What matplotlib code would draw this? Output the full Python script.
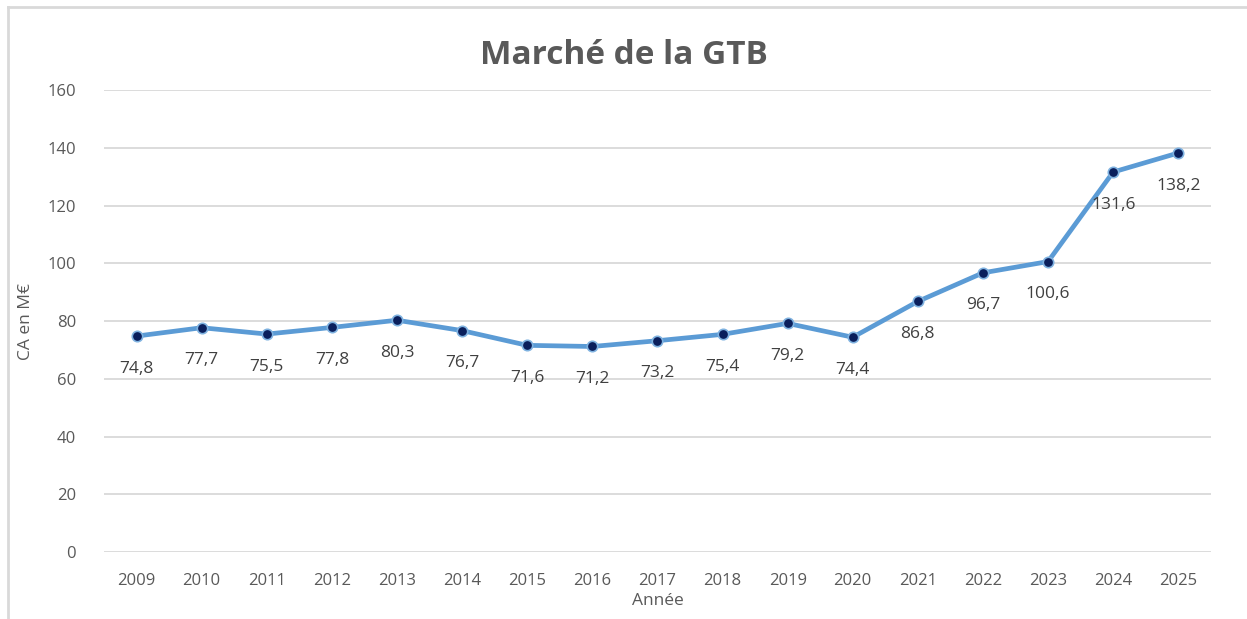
import matplotlib.pyplot as plt
from matplotlib.lines import Line2D

# data
annees = ["2009", "2010", "2011", "2012", "2013", "2014", "2015", "2016", "2017",
          "2018", "2019", "2020", "2021", "2022", "2023", "2024", "2025"]
ca = [74.8, 77.7, 75.5, 77.8, 80.3, 76.7, 71.6, 71.2, 73.2,
      75.4, 79.2, 74.4, 86.8, 96.7, 100.6, 131.6, 138.2]

plt.rcParams['font.family'] = ['Open Sans', 'DejaVu Sans']
gris = '#595959'

fig = plt.figure(figsize=(12.47, 6.19), dpi=100)
ax = fig.add_axes([0.0834, 0.108, 0.8876, 0.7466])

x = list(range(len(annees)))
ax.plot(x, ca, color='#5B9BD5', lw=3.4, marker='o', markersize=7.5,
        markerfacecolor='#0A1F5C', markeredgecolor='#7FB2E0', markeredgewidth=1.2,
        solid_capstyle='round', zorder=3)

for xi, v in zip(x, ca):
    ax.annotate(f"{v:.1f}".replace('.', ','), (xi, v), xytext=(0, -23.5),
                textcoords='offset points', ha='center', va='center',
                fontsize=12.5, color='#404040')

ax.set_xlim(-0.5, len(annees) - 0.5)
ax.set_ylim(0, 160)
ax.set_yticks(range(0, 161, 20))
ax.set_xticks(x)
ax.set_xticklabels(annees)
ax.grid(axis='y', color='#d9d9d9', lw=1.3)
ax.set_axisbelow(True)
for s in ax.spines.values():
    s.set_visible(False)
ax.tick_params(length=0, colors=gris, labelsize=12)
ax.tick_params(axis='y', pad=20)
ax.tick_params(axis='x', pad=15)

ax.set_xlabel("Année", color=gris, fontsize=12.5, labelpad=3)
ax.set_ylabel("CA en M€", color=gris, fontsize=12.5, labelpad=10)
fig.text(0.5, 0.91, "Marché de la GTB", ha='center', va='center',
         fontsize=24, fontweight='bold', color=gris)

# chart frame
fig.add_artist(Line2D([8/1247, 1], [1 - 7/619, 1 - 7/619], color='#d9d9d9', lw=2))
fig.add_artist(Line2D([8/1247, 8/1247], [0, 1 - 7/619], color='#d9d9d9', lw=2))

fig.savefig("out.png", dpi=100)
